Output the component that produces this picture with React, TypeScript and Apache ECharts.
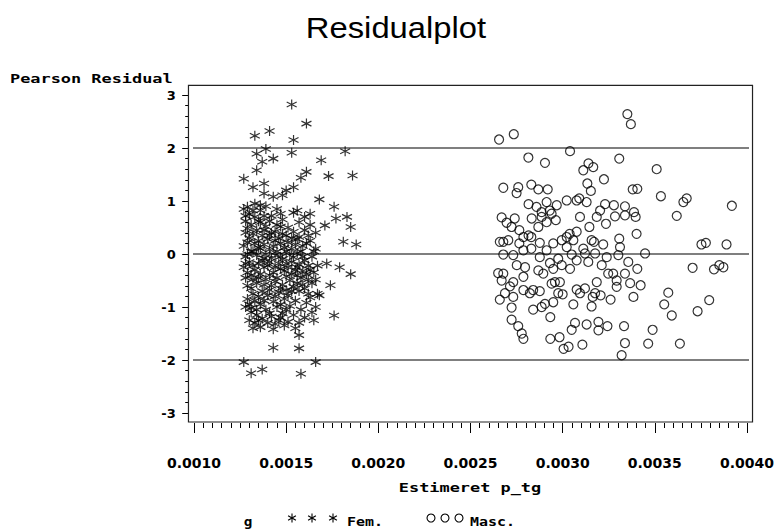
import React, { useEffect, useRef } from "react";
import * as echarts from "echarts";

const xLimits = [0.00097, 0.00403];
const yLimits = [-3.17, 3.18];
const referenceLevels = [-2, 0, 2];

const femalePoints: number[][] = [
  [0.00153, 2.82], [0.00161, 2.46], [0.00133, 2.23], [0.00141, 2.32], [0.00154, 2.15], [0.00139, 1.98],
  [0.00153, 1.91], [0.00182, 1.94], [0.00134, 1.89], [0.00143, 1.8], [0.00137, 1.74], [0.00169, 1.77],
  [0.00161, 1.55], [0.00158, 1.44], [0.00127, 1.42], [0.00134, 1.58], [0.00173, 1.47], [0.00186, 1.48],
  [0.00132, 1.26], [0.00138, 1.33], [0.00154, 1.26], [0.0015, 1.2], [0.00138, 1.14], [0.00143, 1.08],
  [0.00148, 1.11], [0.00168, 1.03], [0.00176, 0.89], [0.00129, 0.89], [0.00136, 0.92], [0.00156, 0.82],
  [0.00163, 0.76], [0.00147, 0.76], [0.00183, 0.7], [0.00177, 0.67], [0.00171, 0.54], [0.00185, 0.51],
  [0.00181, 0.23], [0.00188, 0.18], [0.00172, -0.18], [0.00179, -0.25], [0.00185, -0.38], [0.00174, -0.59],
  [0.00168, -0.78], [0.00176, -1.16], [0.00165, -1.25], [0.00157, -1.53], [0.00143, -1.77], [0.00157, -1.78],
  [0.00127, -2.04], [0.00166, -2.04], [0.00131, -2.25], [0.00137, -2.18], [0.00158, -2.26],
  [0.00127, 0.85], [0.00128, 0.62], [0.00128, 0.4], [0.00127, 0.15], [0.00128, -0.05], [0.00127, -0.25],
  [0.00128, -0.45], [0.00129, -0.85], [0.00128, -1.0], [0.0013, -1.25], [0.0013, 0.75], [0.00131, 0.55],
  [0.0013, 0.3], [0.00131, 0.05], [0.0013, -0.15], [0.00131, -0.4], [0.00131, -0.65], [0.0013, -0.95],
  [0.00131, -1.1], [0.00132, -1.4], [0.00133, 0.95], [0.00133, 0.7], [0.00134, 0.45], [0.00133, 0.2],
  [0.00134, -0.02], [0.00133, -0.3], [0.00134, -0.55], [0.00133, -0.88], [0.00134, -1.15], [0.00133, -1.3],
  [0.00136, 0.82], [0.00136, 0.6], [0.00137, 0.35], [0.00136, 0.1], [0.00137, -0.12], [0.00136, -0.38],
  [0.00137, -0.7], [0.00136, -0.95], [0.00137, -1.22], [0.00136, -1.38], [0.00139, 0.9], [0.00139, 0.52],
  [0.0014, 0.28], [0.00139, 0.0], [0.0014, -0.22], [0.00139, -0.48], [0.0014, -0.78], [0.00139, -1.05],
  [0.0014, -1.3], [0.00142, 0.72], [0.00142, 0.4], [0.00143, 0.15], [0.00142, -0.08], [0.00143, -0.35],
  [0.00142, -0.6], [0.00143, -0.9], [0.00142, -1.18], [0.00143, -1.42], [0.00145, 0.85], [0.00145, 0.55],
  [0.00146, 0.3], [0.00145, 0.05], [0.00146, -0.18], [0.00145, -0.45], [0.00146, -0.72], [0.00145, -1.0],
  [0.00146, -1.25], [0.00148, 0.65], [0.00148, 0.38], [0.00149, 0.12], [0.00148, -0.1], [0.00149, -0.32],
  [0.00148, -0.58], [0.00149, -0.85], [0.00148, -1.12], [0.00149, -1.35], [0.00151, 0.5], [0.00151, 0.22],
  [0.00152, -0.02], [0.00151, -0.25], [0.00152, -0.5], [0.00151, -0.78], [0.00152, -0.98], [0.00151, -1.28],
  [0.00154, 0.78], [0.00154, 0.42], [0.00155, 0.18], [0.00154, -0.06], [0.00155, -0.3], [0.00154, -0.62],
  [0.00155, -0.88], [0.00154, -1.15], [0.00155, -1.4], [0.00157, 0.6], [0.00157, 0.32], [0.00158, 0.05],
  [0.00157, -0.2], [0.00158, -0.45], [0.00157, -0.7], [0.00158, -1.05], [0.00157, -1.3], [0.0016, 0.7],
  [0.0016, 0.45], [0.00161, 0.2], [0.0016, -0.12], [0.00161, -0.38], [0.0016, -0.65], [0.00161, -0.92],
  [0.0016, -1.2], [0.00163, 0.55], [0.00163, 0.25], [0.00164, -0.05], [0.00163, -0.3], [0.00164, -0.55],
  [0.00163, -0.82], [0.00164, -1.1], [0.00166, 0.4], [0.00166, 0.1], [0.00167, -0.22], [0.00166, -0.48],
  [0.00167, -0.75], [0.00166, -1.0], [0.00135, 0.25], [0.00141, 0.08], [0.00147, -0.05], [0.00144, 0.42],
  [0.00138, -0.25], [0.00153, 0.3], [0.00156, -0.4], [0.00132, 0.05], [0.00129, -0.6], [0.00135, -0.8],
  [0.00128, 0.72], [0.00129, 0.48], [0.00129, 0.22], [0.00129, 0.0], [0.00128, -0.18], [0.00129, -0.35],
  [0.00132, 0.82], [0.00132, 0.38], [0.00132, -0.22], [0.00132, -0.48], [0.00132, -0.75], [0.00131, -1.02],
  [0.00135, 0.62], [0.00135, 0.12], [0.00135, -0.18], [0.00135, -0.45], [0.00134, -1.05], [0.00135, -1.25],
  [0.00138, 0.72], [0.00138, 0.45], [0.00138, 0.18], [0.00138, -0.08], [0.00138, -0.58], [0.00138, -0.88],
  [0.00141, 0.62], [0.00141, 0.35], [0.00141, -0.15], [0.00141, -0.4], [0.00141, -0.68], [0.00141, -1.12],
  [0.00144, 0.25], [0.00144, -0.02], [0.00144, -0.25], [0.00144, -0.52], [0.00144, -0.8], [0.00144, -1.32],
  [0.00147, 0.52], [0.00147, 0.2], [0.00147, -0.28], [0.00147, -0.65], [0.00147, -0.95], [0.00147, -1.2],
  [0.0015, 0.35], [0.0015, 0.05], [0.0015, -0.18], [0.0015, -0.42], [0.0015, -0.68], [0.0015, -1.05],
  [0.00153, 0.1], [0.00153, -0.15], [0.00153, -0.38], [0.00153, -0.7], [0.00156, 0.28], [0.00156, 0.02],
  [0.00156, -0.25], [0.00156, -0.55], [0.00159, 0.15], [0.00159, -0.05], [0.00159, -0.32], [0.00159, -0.58],
  [0.00162, 0.35], [0.00162, -0.22], [0.00162, -0.48], [0.00162, -0.75], [0.00165, 0.05], [0.00165, -0.35],
];

const malePoints: number[][] = [
  [0.003351, 2.64], [0.00337, 2.45], [0.002655, 2.16], [0.002735, 2.26], [0.00304, 1.94], [0.002814, 1.82],
  [0.002904, 1.72], [0.003307, 1.8], [0.00314, 1.71], [0.003166, 1.64], [0.003112, 1.58], [0.00351, 1.6],
  [0.003224, 1.41], [0.003134, 1.33], [0.002678, 1.25], [0.002759, 1.26], [0.00275, 1.15], [0.00283, 1.31],
  [0.002868, 1.22], [0.002919, 1.22], [0.00338, 1.22], [0.003405, 1.23], [0.003533, 1.09], [0.003673, 1.05],
  [0.003655, 0.98], [0.003918, 0.91], [0.003619, 0.72], [0.003153, 1.19], [0.00309, 1.05], [0.002815, 0.94],
  [0.002913, 0.98], [0.002968, 0.92], [0.003022, 1.01], [0.003076, 1.01], [0.00313, 0.98], [0.00323, 0.94],
  [0.003278, 0.92], [0.003338, 0.9], [0.003387, 0.79], [0.003396, 0.7], [0.003338, 0.73], [0.003284, 0.71],
  [0.002669, 0.69], [0.002696, 0.59], [0.00274, 0.67], [0.002723, 0.51], [0.002765, 0.45], [0.002832, 0.67],
  [0.002886, 0.7], [0.002868, 0.51], [0.002913, 0.6], [0.002963, 0.64], [0.00294, 0.76], [0.003094, 0.7],
  [0.003185, 0.7], [0.003235, 0.57], [0.003145, 0.51], [0.003076, 0.42], [0.003022, 0.32], [0.003058, 0.26],
  [0.003157, 0.26], [0.00322, 0.18], [0.003307, 0.29], [0.003401, 0.38], [0.003311, 0.13], [0.002678, 0.23],
  [0.002659, 0.23], [0.002705, 0.26], [0.002765, 0.2], [0.002815, 0.35], [0.00283, 0.32], [0.002787, 0.32],
  [0.002949, 0.2], [0.003022, 0.13], [0.003112, 0.1], [0.003176, 0.01], [0.003447, 0.01], [0.003753, 0.18],
  [0.003777, 0.21], [0.003889, 0.18], [0.003705, -0.26], [0.003821, -0.29], [0.00385, -0.21], [0.003872, -0.25],
  [0.003573, -0.73], [0.003551, -0.95], [0.003592, -1.16], [0.003732, -1.08], [0.003795, -0.87], [0.003636, -1.69],
  [0.003488, -1.43], [0.003464, -1.69], [0.003338, -1.68], [0.00332, -1.91], [0.003333, -1.36], [0.003243, -1.36],
  [0.003194, -1.44], [0.003194, -1.28], [0.00313, -1.33], [0.003067, -1.3], [0.003049, -1.43], [0.003107, -1.71],
  [0.003032, -1.75], [0.003005, -1.79], [0.002983, -1.57], [0.002933, -1.6], [0.002787, -1.6], [0.002778, -1.5],
  [0.002759, -1.36], [0.002723, -1.24], [0.002723, -1.01], [0.002659, -0.86], [0.002687, -0.74], [0.00284, -1.05],
  [0.002886, -1.0], [0.002933, -1.19], [0.002904, -0.94], [0.002949, -0.91], [0.003, -0.76], [0.003058, -0.95],
  [0.003157, -0.99], [0.003163, -0.81], [0.003206, -0.78], [0.00326, -0.86], [0.003384, -0.81], [0.003293, -0.62],
  [0.003423, -0.59], [0.003366, -0.55], [0.003405, -0.28], [0.003356, -0.15], [0.003274, -0.37], [0.003247, -0.37],
  [0.003338, -0.37], [0.003293, -0.5], [0.003185, -0.53], [0.003094, -0.74], [0.003121, -0.65], [0.003076, -0.67],
  [0.002976, -0.74], [0.002958, -0.53], [0.002985, -0.53], [0.00294, -0.56], [0.002876, -0.7], [0.00284, -0.68],
  [0.002822, -0.74], [0.002787, -0.68], [0.002714, -0.61], [0.002669, -0.5], [0.00265, -0.36], [0.002678, -0.37],
  [0.002732, -0.53], [0.002787, -0.43], [0.002796, -0.25], [0.002751, -0.21], [0.002868, -0.31], [0.002895, -0.37],
  [0.002949, -0.28], [0.002995, -0.21], [0.00304, -0.28], [0.003076, -0.12], [0.003139, -0.15], [0.003212, -0.21],
  [0.002732, -0.02], [0.002678, -0.01], [0.002876, -0.06], [0.002931, -0.17], [0.002976, -0.09], [0.003049, -0.01],
  [0.003121, 0.01], [0.003239, -0.06], [0.003302, -0.02], [0.00283, 0.1], [0.002787, 0.07], [0.002876, 0.21],
  [0.002913, 0.07], [0.003038, 0.38], [0.002995, 0.26], [0.00317, 0.23], [0.00293, 0.82], [0.002886, 0.79],
  [0.002858, 0.89], [0.003203, 0.82], [0.002732, -0.81], [0.003176, -0.74],
];

const ASTERISK = "path://M5,0L5,10M0.67,2.5L9.33,7.5M9.33,2.5L0.67,7.5";

function asteriskGlyph(cx: number, cy: number, r: number) {
  const dx = r * 0.866;
  const dy = r * 0.5;
  const ls = { stroke: "#000", lineWidth: 1.1 };
  return {
    type: "group",
    children: [
      { type: "line", shape: { x1: cx, y1: cy - r, x2: cx, y2: cy + r }, style: ls },
      { type: "line", shape: { x1: cx - dx, y1: cy - dy, x2: cx + dx, y2: cy + dy }, style: ls },
      { type: "line", shape: { x1: cx + dx, y1: cy - dy, x2: cx - dx, y2: cy + dy }, style: ls },
    ],
  };
}

function monoText(text: string, x: number, y: number, align: string, scaleX = 1.3) {
  return {
    type: "text",
    x,
    y,
    scaleX,
    style: {
      text,
      font: "bold 13px 'DejaVu Sans Mono'",
      fill: "#000",
      textAlign: align,
      textVerticalAlign: "middle",
    },
  };
}

export default function App() {
  const ref = useRef<HTMLDivElement>(null);
  useEffect(() => {
    const chart = echarts.init(ref.current!, null, { renderer: "svg" });
    const [x0, x1] = xLimits;
    const [y0, y1] = yLimits;
    const labelFont = { fontFamily: "DejaVu Sans", fontWeight: "bold" as const, fontSize: 14, color: "#000" };

    const series: any[] = [
      ...referenceLevels.map((lv) => ({
        type: "line",
        data: [[x0, lv], [x1, lv]],
        symbol: "none",
        clip: false,
        silent: true,
        z: 1,
        lineStyle: { color: "#555", width: 1.5 },
      })),
      {
        type: "scatter",
        name: "Fem.",
        data: femalePoints,
        symbol: ASTERISK,
        symbolSize: 10,
        z: 3,
        itemStyle: { color: "none", borderColor: "#000", borderWidth: 1.2 },
      },
      {
        type: "scatter",
        name: "Masc.",
        data: malePoints,
        symbol: "circle",
        symbolSize: 9,
        z: 3,
        itemStyle: { color: "rgba(0,0,0,0)", borderColor: "#000", borderWidth: 1.2 },
      },
    ];

    const staticGraphics: any[] = [
      {
        type: "text",
        x: 396,
        y: 28,
        scaleX: 1.13,
        style: {
          text: "Residualplot",
          font: "29px 'Liberation Sans'",
          fill: "#000",
          textAlign: "center",
          textVerticalAlign: "middle",
        },
      },
      monoText("Pearson Residual", 10, 79, "left"),
      monoText("Estimeret p_tg", 470, 488, "center"),
      monoText("g", 248, 521, "center", 1.1),
      asteriskGlyph(292, 518, 4.5),
      asteriskGlyph(312, 518, 4.5),
      asteriskGlyph(333, 518, 4.5),
      monoText("Fem.", 347, 521, "left", 1.15),
      { type: "circle", shape: { cx: 431, cy: 518, r: 4 }, style: { fill: "none", stroke: "#000", lineWidth: 1.1 } },
      { type: "circle", shape: { cx: 445, cy: 518, r: 4 }, style: { fill: "none", stroke: "#000", lineWidth: 1.1 } },
      { type: "circle", shape: { cx: 459, cy: 518, r: 4 }, style: { fill: "none", stroke: "#000", lineWidth: 1.1 } },
      monoText("Masc.", 470, 521, "left", 1.15),
    ];

    chart.setOption({
      animation: false,
      backgroundColor: "#fff",
      grid: { left: 194, right: 30, top: 95, bottom: 118, containLabel: false },
      xAxis: {
        type: "value",
        min: 0.001,
        max: 0.004,
        interval: 0.0005,
        offset: 10,
        axisLine: { show: false, onZero: false },
        axisTick: { show: true, length: 10, lineStyle: { color: "#000", width: 1 } },
        minorTick: { show: true, splitNumber: 10, length: 5, lineStyle: { color: "#000", width: 1 } },
        splitLine: { show: false },
        minorSplitLine: { show: false },
        axisLabel: { ...labelFont, margin: 33, formatter: (v: number) => v.toFixed(4) },
      },
      yAxis: {
        type: "value",
        min: -3,
        max: 3,
        interval: 1,
        offset: 5.3,
        axisLine: { show: false, onZero: false },
        axisTick: { show: true, length: 6.5, lineStyle: { color: "#000", width: 1 } },
        minorTick: { show: true, splitNumber: 5, length: 3.5, lineStyle: { color: "#000", width: 1 } },
        splitLine: { show: false },
        minorSplitLine: { show: false },
        axisLabel: { ...labelFont, fontSize: 13, margin: 13, formatter: (v: number) => String(v) },
      },
      series,
      graphic: staticGraphics,
    });

    const pA = chart.convertToPixel({ gridIndex: 0 }, [x0, y1]) as number[];
    const pB = chart.convertToPixel({ gridIndex: 0 }, [x1, y0]) as number[];
    chart.setOption({
      graphic: [
        ...staticGraphics,
        {
          type: "rect",
          shape: { x: pA[0], y: pA[1], width: pB[0] - pA[0], height: pB[1] - pA[1] },
          style: { fill: "none", stroke: "#222", lineWidth: 1.2 },
          z: 2,
          silent: true,
        },
      ],
    });
    return () => chart.dispose();
  }, []);
  return <div ref={ref} style={{ position: "fixed", left: 0, top: 0, width: 777, height: 531, background: "#fff" }} />;
}
